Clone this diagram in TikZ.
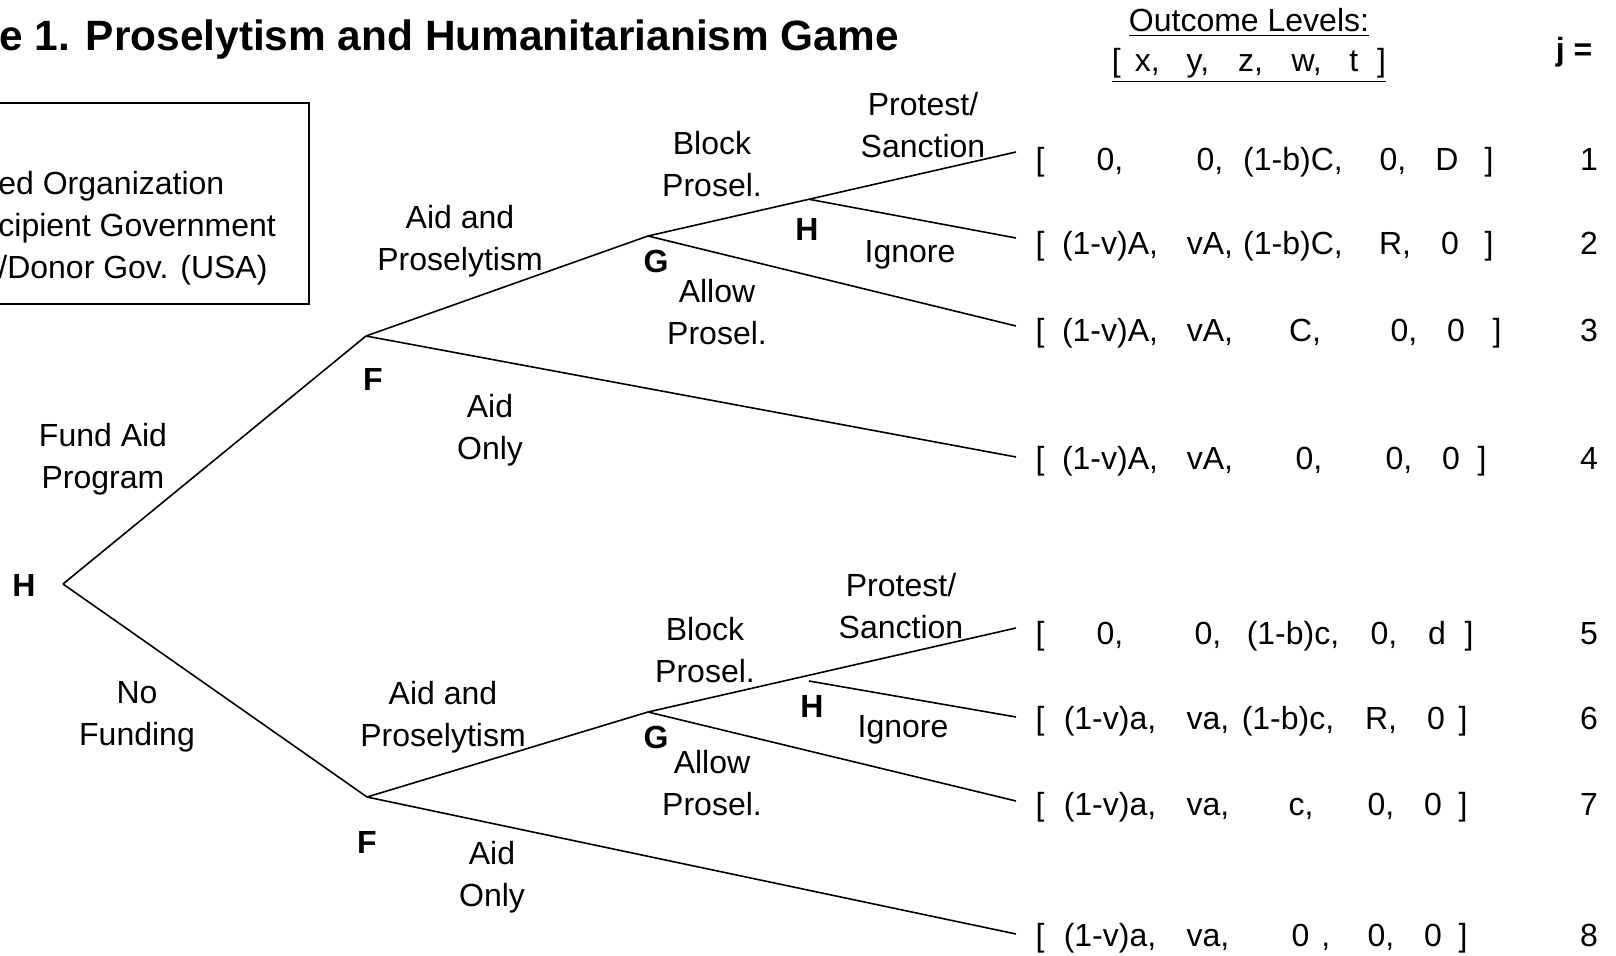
\documentclass[tikz,border=0pt]{standalone}
\usepackage{fontspec}
\setmainfont{Liberation Sans}
\usetikzlibrary{calc}

\tikzset{
  lbl/.style={font=\fontsize{16}{21}\selectfont, align=center, inner sep=0pt},
  plyr/.style={font=\fontsize{16}{21}\selectfont\bfseries, inner sep=0pt},
  pay/.style={font=\fontsize{16}{21}\selectfont, inner sep=0pt, anchor=base},
  branch/.style={line width=0.8pt}
}

\begin{document}
\begin{tikzpicture}[x=0.5pt,y=-0.5pt]
\useasboundingbox (0,0) rectangle (1616,956);

% Title and key
\node[font=\fontsize{21.2}{25}\selectfont\bfseries, anchor=base west, inner sep=0pt] (title) at (-1,51) {e 1. Proselytism and Humanitarianism Game};
\draw[line width=0.8pt] (-10,103) -- (309,103) -- (309,304) -- (-10,304);
\node[lbl, align=left, anchor=west] (key) at (-2,228) {ed Organization\\cipient Government\\/Donor Gov. (USA)};

% Column header
\node[pay] (hdr) at (1249,32) {\underline{Outcome Levels:}};
\node[pay] (vars) at (1249,72) {\underline{[\hspace{7pt}x,\hspace{13.5pt}y,\hspace{14.5pt}z,\hspace{14.25pt}w,\hspace{13.75pt}t\hspace{9.5pt}]}};
\node[plyr, anchor=base] (jeq) at (1574,61) {j =};

% Decision points and ends
\coordinate (h0) at (63,584);
\coordinate (f1) at (366,336);
\coordinate (f2) at (367,797);
\coordinate (g1) at (648,236);
\coordinate (g2) at (648,712);
\foreach \n/\ty in {1/152,2/238,3/326,4/457,5/628,6/717,7/801,8/934}
  \coordinate (t\n) at (1016,\ty);
\coordinate (h1) at ($(g1)!0.4375!(t1)$);
\coordinate (h2) at (809,681);

% Branches
\foreach \s/\e in {h0/f1, h0/f2, f1/g1, f1/t4, g1/t1, g1/t3, h1/t2, f2/g2, f2/t8, g2/t5, g2/t7, h2/t6}
  \draw[branch] (\s) -- (\e);

% Players
\node[plyr] (lh0) at (24,585) {H};
\node[plyr] (lf1) at (373,379) {F};
\node[plyr] (lf2) at (367,842) {F};
\node[plyr] (lg1) at (656,261) {G};
\node[plyr] (lg2) at (656,737) {G};
\node[plyr] (lh1) at (807,229) {H};
\node[plyr] (lh2) at (812,706) {H};

% Moves
\node[lbl] (fund) at (103,459) {Fund Aid\\Program};
\node[lbl] (nofund) at (137,717) {No\\Funding};
\node[lbl] (ap1) at (460,241) {Aid and\\Proselytism};
\node[lbl] (ao1) at (490,430) {Aid\\Only};
\node[lbl] (ap2) at (443,717) {Aid and\\Proselytism};
\node[lbl] (ao2) at (492,877) {Aid\\Only};
\node[lbl] (bp1) at (712,164) {Block\\Prosel.};
\node[lbl] (al1) at (717,312) {Allow\\Prosel.};
\node[lbl] (ps1) at (923,125) {Protest/\\Sanction};
\node[lbl] (ig1) at (910,255) {Ignore};
\node[lbl] (bp2) at (705,650) {Block\\Prosel.};
\node[lbl] (al2) at (712,783) {Allow\\Prosel.};
\node[lbl] (ps2) at (901,606) {Protest/\\Sanction};
\node[lbl] (ig2) at (903,730) {Ignore};

% Outcomes, upper half
\foreach \n/\ry/\vx/\vy/\vz/\vw/\vt/\zx/\wx/\tx/\rx in {
  1/171/0/0/{(1-b)C}/0/D/1293/1393/1447/1489,
  2/255/{(1-v)A}/vA/{(1-b)C}/R/0/1293/1395/1450/1489,
  3/342/{(1-v)A}/vA/C/0/0/1305/1404/1456/1497,
  4/470/{(1-v)A}/vA/0/0/0/1309/1399/1451/1482} {
  \node[pay] (r\n-l) at (1040,\ry) {[};
  \node[pay] (r\n-x) at (1110,\ry) {\vx,};
  \node[pay] (r\n-y) at (1210,\ry) {\vy,};
  \node[pay] (r\n-z) at (\zx,\ry) {\vz,};
  \node[pay] (r\n-w) at (\wx,\ry) {\vw,};
  \node[pay] (r\n-t) at (\tx,\ry) {\vt};
  \node[pay] (r\n-r) at (\rx,\ry) {]};
  \node[pay] (j\n) at (1589,\ry) {\n};
}

% Outcomes, lower half
\foreach \n/\ry/\vx/\vy/\vz/\vw/\vt/\zx/\wx/\tx/\rx in {
  5/644/0/0/{(1-b)c}/0/d/1293/1384/1437/1469,
  6/729/{(1-v)a}/va/{(1-b)c}/R/0/1288/1381/1436/1463,
  7/815/{(1-v)a}/va/c/0/0/1301/1381/1433/1463,
  8/946/{(1-v)a}/va/{0\hspace{6pt}}/0/0/1311/1381/1433/1463} {
  \node[pay] (r\n-l) at (1040,\ry) {[};
  \node[pay] (r\n-x) at (1110,\ry) {\vx,};
  \node[pay] (r\n-y) at (1208,\ry) {\vy,};
  \node[pay] (r\n-z) at (\zx,\ry) {\vz,};
  \node[pay] (r\n-w) at (\wx,\ry) {\vw,};
  \node[pay] (r\n-t) at (\tx,\ry) {\vt};
  \node[pay] (r\n-r) at (\rx,\ry) {]};
  \node[pay] (j\n) at (1589,\ry) {\n};
}
\end{tikzpicture}
\end{document}
